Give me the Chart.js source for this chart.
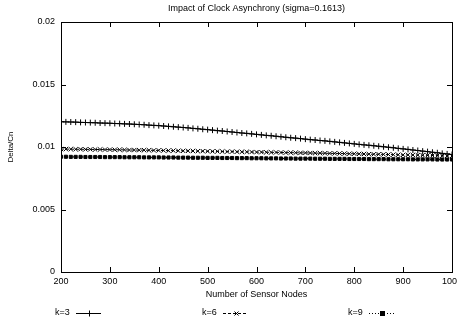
<!DOCTYPE html>
<html>
<head>
<meta charset="utf-8">
<script src="https://cdn.jsdelivr.net/npm/chart.js@4/dist/chart.umd.min.js"></script>
<style>
  body { margin: 0; background: #fff; }
  canvas { display: block; }
</style>
</head>
<body>
<canvas id="asyncChart" width="457" height="322"></canvas>
<script>
// Number of sensor nodes (x axis)
const nodeCounts = [200, 210, 220, 230, 240, 250, 260, 270, 280, 290,
  300, 310, 320, 330, 340, 350, 360, 370, 380, 390,
  400, 410, 420, 430, 440, 450, 460, 470, 480, 490,
  500, 510, 520, 530, 540, 550, 560, 570, 580, 590,
  600, 610, 620, 630, 640, 650, 660, 670, 680, 690,
  700, 710, 720, 730, 740, 750, 760, 770, 780, 790,
  800, 810, 820, 830, 840, 850, 860, 870, 880, 890,
  900, 910, 920, 930, 940, 950, 960, 970, 980, 990, 1000];

// Delta/Cn for each k
const k3 = [0.01202, 0.01201, 0.01200, 0.01199, 0.01197, 0.01196, 0.01195, 0.01194, 0.01192, 0.01191,
  0.01190, 0.01188, 0.01187, 0.01185, 0.01184, 0.01182, 0.01180, 0.01178, 0.01175, 0.01173,
  0.01171, 0.01168, 0.01165, 0.01162, 0.01159, 0.01156, 0.01153, 0.01149, 0.01146, 0.01142,
  0.01139, 0.01135, 0.01131, 0.01128, 0.01124, 0.01120, 0.01116, 0.01112, 0.01109, 0.01105,
  0.01101, 0.01097, 0.01093, 0.01090, 0.01086, 0.01082, 0.01078, 0.01074, 0.01071, 0.01067,
  0.01063, 0.01059, 0.01056, 0.01052, 0.01049, 0.01045, 0.01041, 0.01037, 0.01033, 0.01029,
  0.01025, 0.01021, 0.01017, 0.01014, 0.01010, 0.01006, 0.01002, 0.00998, 0.00994, 0.00989,
  0.00985, 0.00981, 0.00976, 0.00972, 0.00967, 0.00963, 0.00958, 0.00954, 0.00949, 0.00945, 0.00940];

const k6 = [0.00984, 0.00983, 0.00983, 0.00982, 0.00982, 0.00981, 0.00981, 0.00980, 0.00980, 0.00979,
  0.00979, 0.00978, 0.00978, 0.00977, 0.00976, 0.00976, 0.00975, 0.00975, 0.00974, 0.00973,
  0.00973, 0.00972, 0.00971, 0.00971, 0.00970, 0.00969, 0.00969, 0.00968, 0.00967, 0.00967,
  0.00966, 0.00965, 0.00965, 0.00964, 0.00963, 0.00963, 0.00962, 0.00961, 0.00961, 0.00960,
  0.00959, 0.00959, 0.00958, 0.00957, 0.00957, 0.00956, 0.00955, 0.00955, 0.00954, 0.00953,
  0.00953, 0.00952, 0.00951, 0.00951, 0.00950, 0.00949, 0.00949, 0.00948, 0.00947, 0.00946,
  0.00946, 0.00945, 0.00944, 0.00943, 0.00942, 0.00942, 0.00941, 0.00940, 0.00939, 0.00938,
  0.00937, 0.00937, 0.00936, 0.00935, 0.00934, 0.00933, 0.00932, 0.00931, 0.00930, 0.00929, 0.00928];

const k9 = [0.00922, 0.00922, 0.00921, 0.00921, 0.00921, 0.00920, 0.00920, 0.00920, 0.00920, 0.00919,
  0.00919, 0.00919, 0.00919, 0.00918, 0.00918, 0.00918, 0.00918, 0.00917, 0.00917, 0.00917,
  0.00917, 0.00916, 0.00916, 0.00916, 0.00915, 0.00915, 0.00915, 0.00914, 0.00914, 0.00914,
  0.00913, 0.00913, 0.00913, 0.00912, 0.00912, 0.00912, 0.00911, 0.00911, 0.00911, 0.00910,
  0.00910, 0.00910, 0.00909, 0.00909, 0.00909, 0.00908, 0.00908, 0.00908, 0.00907, 0.00907,
  0.00907, 0.00907, 0.00906, 0.00906, 0.00906, 0.00905, 0.00905, 0.00905, 0.00905, 0.00904,
  0.00904, 0.00904, 0.00904, 0.00903, 0.00903, 0.00903, 0.00903, 0.00902, 0.00902, 0.00902,
  0.00902, 0.00902, 0.00901, 0.00901, 0.00901, 0.00901, 0.00901, 0.00900, 0.00900, 0.00900, 0.00900];

const seriesLabels = ['k=3', 'k=6', 'k=9'];
const xTicks = [200, 300, 400, 500, 600, 700, 800, 900, 1000];
const yTicks = [0, 0.005, 0.01, 0.015, 0.02];

const FONT = "'Liberation Sans', Arial, Helvetica, sans-serif";

function toPoints(ys) {
    return ys.map((y, i) => ({ x: nodeCounts[i], y: y }));
}

// gnuplot style: inward ticks on all four sides, frame, title, legend row at the bottom
const gnuplotFrame = {
    id: 'gnuplotFrame',
    afterDraw(chart) {
        const { ctx, chartArea: a, scales } = chart;
        ctx.save();
        ctx.strokeStyle = '#000';
        ctx.lineWidth = 1;
        ctx.strokeRect(Math.round(a.left) + 0.5, Math.round(a.top) + 0.5,
            Math.round(a.right - a.left), Math.round(a.bottom - a.top));
        ctx.beginPath();
        xTicks.forEach(v => {
            const px = Math.round(scales.x.getPixelForValue(v)) + 0.5;
            ctx.moveTo(px, a.bottom); ctx.lineTo(px, a.bottom - 5);
            ctx.moveTo(px, a.top); ctx.lineTo(px, a.top + 5);
        });
        yTicks.forEach(v => {
            const py = Math.round(scales.y.getPixelForValue(v)) + 0.5;
            ctx.moveTo(a.left, py); ctx.lineTo(a.left + 5, py);
            ctx.moveTo(a.right, py); ctx.lineTo(a.right - 5, py);
        });
        ctx.stroke();

        // title
        ctx.fillStyle = '#000';
        ctx.font = '9px ' + FONT;
        ctx.textAlign = 'center';
        ctx.textBaseline = 'middle';
        ctx.fillText('Impact of Clock Asynchrony (sigma=0.1613)', (a.left + a.right) / 2, 9);

        // legend
        const legendX = [55, 202, 348];
        const ly = 313;
        chart.data.datasets.forEach((ds, i) => {
            const x0 = legendX[i];
            ctx.textAlign = 'left';
            ctx.fillText(ds.label, x0, ly);
            const s0 = x0 + 21, s1 = x0 + 46;
            ctx.beginPath();
            ctx.setLineDash(ds.borderDash || []);
            ctx.moveTo(s0, ly + 0.5); ctx.lineTo(s1, ly + 0.5);
            ctx.stroke();
            ctx.setLineDash([]);
            const mx = Math.round((s0 + s1) / 2) + 0.5;
            ctx.beginPath();
            if (ds.pointStyle === 'cross') {
                ctx.moveTo(mx - 3, ly + 0.5); ctx.lineTo(mx + 3, ly + 0.5);
                ctx.moveTo(mx, ly - 2.5); ctx.lineTo(mx, ly + 3.5);
                ctx.stroke();
            } else if (ds.pointStyle === 'crossRot') {
                ctx.moveTo(mx - 2, ly - 1.5); ctx.lineTo(mx + 2, ly + 2.5);
                ctx.moveTo(mx + 2, ly - 1.5); ctx.lineTo(mx - 2, ly + 2.5);
                ctx.stroke();
            } else {
                ctx.fillRect(mx - 2.5, ly - 2, 5, 5);
            }
        });
        ctx.restore();
    }
};

new Chart(document.getElementById('asyncChart'), {
    type: 'line',
    data: {
        datasets: [
            { label: seriesLabels[0], data: toPoints(k3), borderColor: '#000', backgroundColor: '#000',
              borderWidth: 1, pointStyle: 'cross', pointRadius: 3, pointBorderWidth: 1 },
            { label: seriesLabels[1], data: toPoints(k6), borderColor: '#000', backgroundColor: '#000',
              borderWidth: 1, borderDash: [3, 2], pointStyle: 'crossRot', pointRadius: 3, pointBorderWidth: 1 },
            { label: seriesLabels[2], data: toPoints(k9), borderColor: '#000', backgroundColor: '#000',
              borderWidth: 1, borderDash: [1, 2], pointStyle: 'rect', pointRadius: 2.2, pointBorderWidth: 1 }
        ]
    },
    options: {
        responsive: false,
        animation: false,
        devicePixelRatio: 1,
        layout: { padding: { top: 22, right: 5, left: 0, bottom: 22 } },
        plugins: {
            legend: { display: false },
            title: { display: false },
            tooltip: { enabled: false }
        },
        scales: {
            x: {
                type: 'linear',
                min: 200,
                max: 1000,
                grid: { display: false, drawTicks: false },
                border: { display: false },
                ticks: { stepSize: 100, color: '#000', padding: 4, maxRotation: 0, autoSkip: false,
                         font: { family: FONT, size: 9 },
                         callback: v => String(v) },
                title: { display: true, text: 'Number of Sensor Nodes', color: '#000',
                         font: { family: FONT, size: 9 }, padding: { top: 0, bottom: 0 } },
                afterFit(scale) {
                    scale.height = 28;
                    scale.paddingLeft = 0;
                    scale.paddingRight = 0;
                }
            },
            y: {
                min: 0,
                max: 0.02,
                grid: { display: false, drawTicks: false },
                border: { display: false },
                ticks: { stepSize: 0.005, color: '#000', padding: 6,
                         font: { family: FONT, size: 9 },
                         callback: v => String(Number(v.toFixed(3))) },
                title: { display: true, text: 'Delta/Cn', color: '#000',
                         font: { family: FONT, size: 8 }, padding: { top: 6, bottom: 0 } },
                afterFit(scale) {
                    scale.width = 61;
                    scale.paddingTop = 0;
                    scale.paddingBottom = 0;
                }
            }
        }
    },
    plugins: [gnuplotFrame]
});
</script>
</body>
</html>
